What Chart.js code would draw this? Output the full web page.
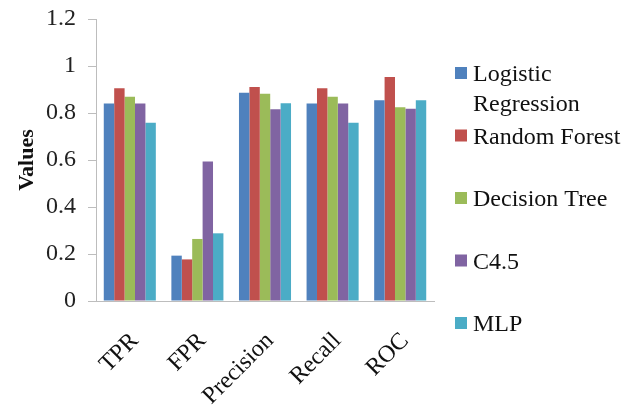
<!DOCTYPE html>
<html>
<head>
<meta charset="utf-8">
<script src="https://cdn.jsdelivr.net/npm/chart.js@4/dist/chart.umd.min.js"></script>
<style>
  html, body { margin: 0; padding: 0; background: #fff; }
  canvas { display: block; }
</style>
</head>
<body>
<canvas id="c" width="638" height="412"></canvas>
<script>
const categories = ['TPR', 'FPR', 'Precision', 'Recall', 'ROC'];
const seriesNames = ['Logistic Regression', 'Random Forest', 'Decision Tree', 'C4.5', 'MLP'];
const logisticRegression = [0.84, 0.193, 0.886, 0.84, 0.854];
const randomForest       = [0.905, 0.177, 0.911, 0.905, 0.953];
const decisionTree       = [0.869, 0.264, 0.882, 0.869, 0.824];
const c45                = [0.84, 0.594, 0.816, 0.84, 0.818];
const mlp                = [0.758, 0.288, 0.841, 0.758, 0.854];
const yTickLabels = ['0', '0.2', '0.4', '0.6', '0.8', '1', '1.2'];
const colors = ['#4F81BD', '#C0504D', '#9BBB59', '#8064A2', '#4BACC6'];
const legendLines = [['Logistic', 'Regression'], ['Random Forest'], ['Decision Tree'], ['C4.5'], ['MLP']];

const seriesValues = [logisticRegression, randomForest, decisionTree, c45, mlp];
const font = "'Liberation Serif', serif";

const legendPlugin = {
  id: 'sideLegend',
  afterDraw(chart) {
    const ctx = chart.ctx;
    const left = chart.chartArea.right + 21;
    const startY = 73, step = 62.5, lineH = 30;
    ctx.save();
    ctx.font = "24px 'Liberation Serif', serif";
    ctx.textBaseline = 'middle';
    ctx.textAlign = 'left';
    chart.data.datasets.forEach((ds, i) => {
      const cy = startY + i * step;
      ctx.fillStyle = ds.backgroundColor;
      ctx.fillRect(left, cy - 6, 12, 12);
      ctx.fillStyle = '#111';
      legendLines[i].forEach((t, j) => ctx.fillText(t, left + 18, cy + 2 + j * lineH));
    });
    ctx.restore();
  }
};

new Chart(document.getElementById('c'), {
  type: 'bar',
  data: {
    labels: categories,
    datasets: seriesNames.map((n, i) => ({
      label: n,
      data: seriesValues[i],
      backgroundColor: colors[i],
      borderWidth: 0,
      categoryPercentage: 0.77,
      barPercentage: 1.0
    }))
  },
  options: {
    responsive: false,
    animation: false,
    devicePixelRatio: 1,
    layout: { padding: { top: 0, right: 204, left: 0, bottom: 0 } },
    plugins: { legend: { display: false }, tooltip: { enabled: false } },
    scales: {
      y: {
        min: 0, max: 1.2,
        ticks: {
          stepSize: 0.2,
          color: '#222',
          font: { family: font, size: 24 },
          padding: 12,
          callback: (v, i) => yTickLabels[i]
        },
        grid: { drawOnChartArea: false, drawTicks: true, tickLength: 8, color: '#bdbdbd' },
        border: { color: '#bdbdbd' },
        title: { display: true, text: 'Values', color: '#111', font: { family: font, size: 22, weight: 'bold' }, padding: { top: 14, bottom: 0 } },
        afterFit: s => { s.width = 96; s.paddingTop = 19; s.paddingBottom = 0; }
      },
      x: {
        ticks: {
          color: '#111',
          font: { family: font, size: 24 },
          minRotation: 45, maxRotation: 45,
          padding: 18,
          labelOffset: 5
        },
        grid: { display: false },
        border: { color: '#bdbdbd' },
        afterFit: s => { s.height = 111; }
      }
    }
  },
  plugins: [legendPlugin]
});
</script>
</body>
</html>
